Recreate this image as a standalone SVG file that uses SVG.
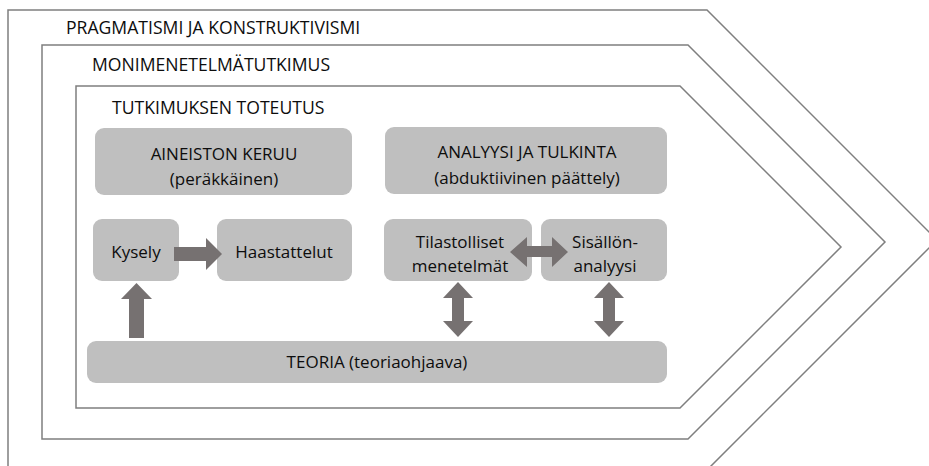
<svg xmlns="http://www.w3.org/2000/svg" width="929" height="466" viewBox="0 0 929 466">
<style>
.frame{fill:none;stroke:#7f7f7f;stroke-width:1.5}
.box{fill:#bfbfbf}
.arr{fill:#767171}
text{font-family:"Open Sans","Liberation Sans",sans-serif;fill:#0d0d0d}
.t{font-size:17.6px}
.b{font-size:17px;text-anchor:middle}
</style>
<rect width="929" height="466" fill="#ffffff"/>
<g id="frame-pragmatismi">
<path class="frame" d="M8,470 V10 H707 L937,240 L707,470"/>
<text class="t" x="66" y="34">PRAGMATISMI JA KONSTRUKTIVISMI</text>
</g>
<g id="frame-monimenetelma">
<path class="frame" d="M42,439 V45 H688 L885,242 L688,439 Z"/>
<text class="t" x="92" y="71">MONIMENETELMÄTUTKIMUS</text>
</g>
<g id="frame-toteutus">
<path class="frame" d="M76,408 V86 H680 L841,247 L680,408 Z"/>
<text class="t" x="112" y="114">TUTKIMUKSEN TOTEUTUS</text>
</g>
<g id="aineiston">
<rect class="box" x="95" y="128" width="257" height="67" rx="9"/>
<text class="b" x="224" y="160">AINEISTON KERUU</text>
<text class="b" x="224" y="185">(peräkkäinen)</text>
</g>
<g id="analyysi">
<rect class="box" x="385" y="127" width="282" height="67" rx="9"/>
<text class="b" x="527" y="158">ANALYYSI JA TULKINTA</text>
<text class="b" x="527" y="184">(abduktiivinen päättely)</text>
</g>
<g id="kysely">
<rect class="box" x="93" y="219" width="86" height="62" rx="9"/>
<text class="b" x="136" y="258">Kysely</text>
</g>
<g id="haastattelut">
<rect class="box" x="217" y="219" width="135" height="62" rx="9"/>
<text class="b" x="284" y="258">Haastattelut</text>
</g>
<g id="tilastolliset">
<rect class="box" x="384" y="219" width="148" height="62" rx="9"/>
<text class="b" x="460" y="248">Tilastolliset</text>
<text class="b" x="460" y="272">menetelmät</text>
</g>
<g id="sisallon">
<rect class="box" x="541" y="219" width="126" height="62" rx="9"/>
<text class="b" x="605" y="248">Sisällön-</text>
<text class="b" x="605" y="272">analyysi</text>
</g>
<g id="teoria">
<rect class="box" x="87" y="341" width="580" height="42" rx="9"/>
<text class="b" x="377" y="368">TEORIA (teoriaohjaava)</text>
</g>
<g id="connectors">
<polygon class="arr" points="174,247 206,247 206,238 222,254 206,270 206,261 174,261"/>
<polygon class="arr" points="129,338 129,299 121,299 136.5,283 152,299 144,299 144,338"/>
<polygon class="arr" points="510,252 527,237 527,246 552,246 552,237 568,252 552,267 552,257 527,257 527,267"/>
<polygon class="arr" points="458,282 473,298 464,298 464,321 473,321 458,337 443,321 452,321 452,298 443,298"/>
<polygon class="arr" points="609,282 624,298 615,298 615,321 624,321 609,337 594,321 603,321 603,298 594,298"/>
</g>
</svg>
